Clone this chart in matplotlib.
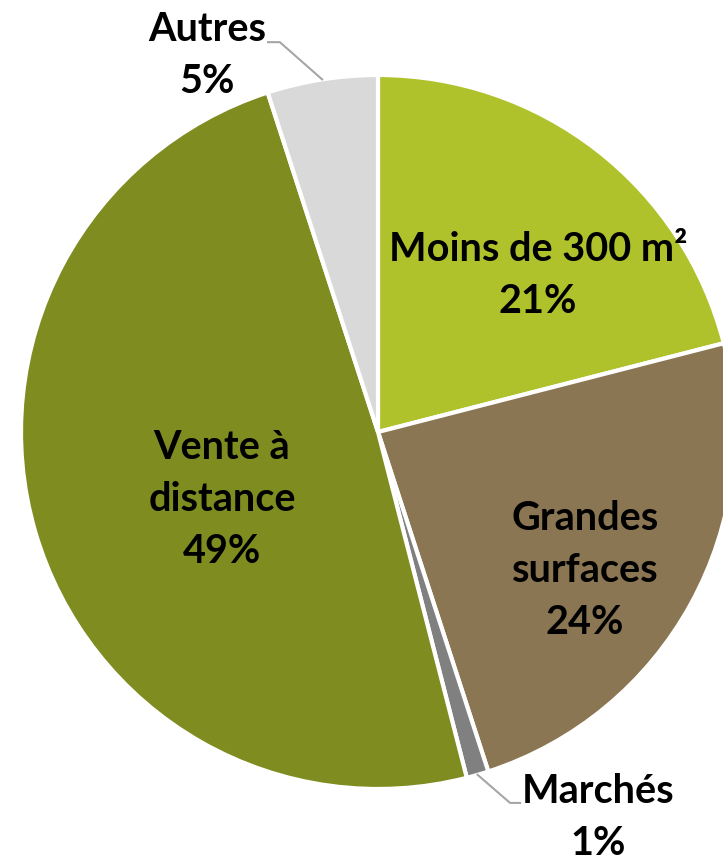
import numpy as np
import matplotlib.pyplot as plt

labels = ['Moins de 300 m²', 'Grandes\nsurfaces', 'Marchés', 'Vente à\ndistance', 'Autres']
values = [21, 24, 1, 49, 5]
colors = ['#B0C22B', '#8B7653', '#808080', '#7F8C20', '#D9D9D9']

# label centres (data units, radius = 1)
label_pos = [(0.448, 0.437), (0.580, -0.389), (0.616, -1.081), (-0.437, -0.190), (-0.479, 1.056)]
outside = [False, False, True, False, True]

plt.rcParams['font.family'] = ['Lato', 'DejaVu Sans']

fig = plt.figure(figsize=(7.23, 8.56), dpi=100)
cx, cy, r = 378, 432, 357
W, H = 723, 856
ax = fig.add_axes([(cx - r) / W, (H - cy - r) / H, 2 * r / W, 2 * r / H])

wedges, _ = ax.pie(values, colors=colors, startangle=90, counterclock=False,
                   radius=1, center=(0, 0),
                   wedgeprops=dict(edgecolor='white', linewidth=3))
ax.set_xlim(-1, 1)
ax.set_ylim(-1, 1)
ax.axis('off')
for w in wedges:
    w.set_clip_on(False)

for w, lab, v, (tx, ty), out in zip(wedges, labels, values, label_pos, outside):
    ax.text(tx, ty, f'{lab}\n{v}%', ha='center', va='center', fontsize=28.5,
            fontweight='bold', color='black', linespacing=1.5, clip_on=False)
    if out:
        ang = np.deg2rad((w.theta1 + w.theta2) / 2)
        x0, y0 = np.cos(ang), np.sin(ang)
        if tx < 0:
            xs = [x0, -0.275, -0.308]
            ys = [y0, 1.092, 1.092]
        else:
            xs = [x0, 0.370, 0.398]
            ys = [y0, -1.039, -1.039]
        ax.plot(xs, ys, color='#A6A6A6', lw=1.5, clip_on=False)

fig.savefig('out.png', dpi=100)
